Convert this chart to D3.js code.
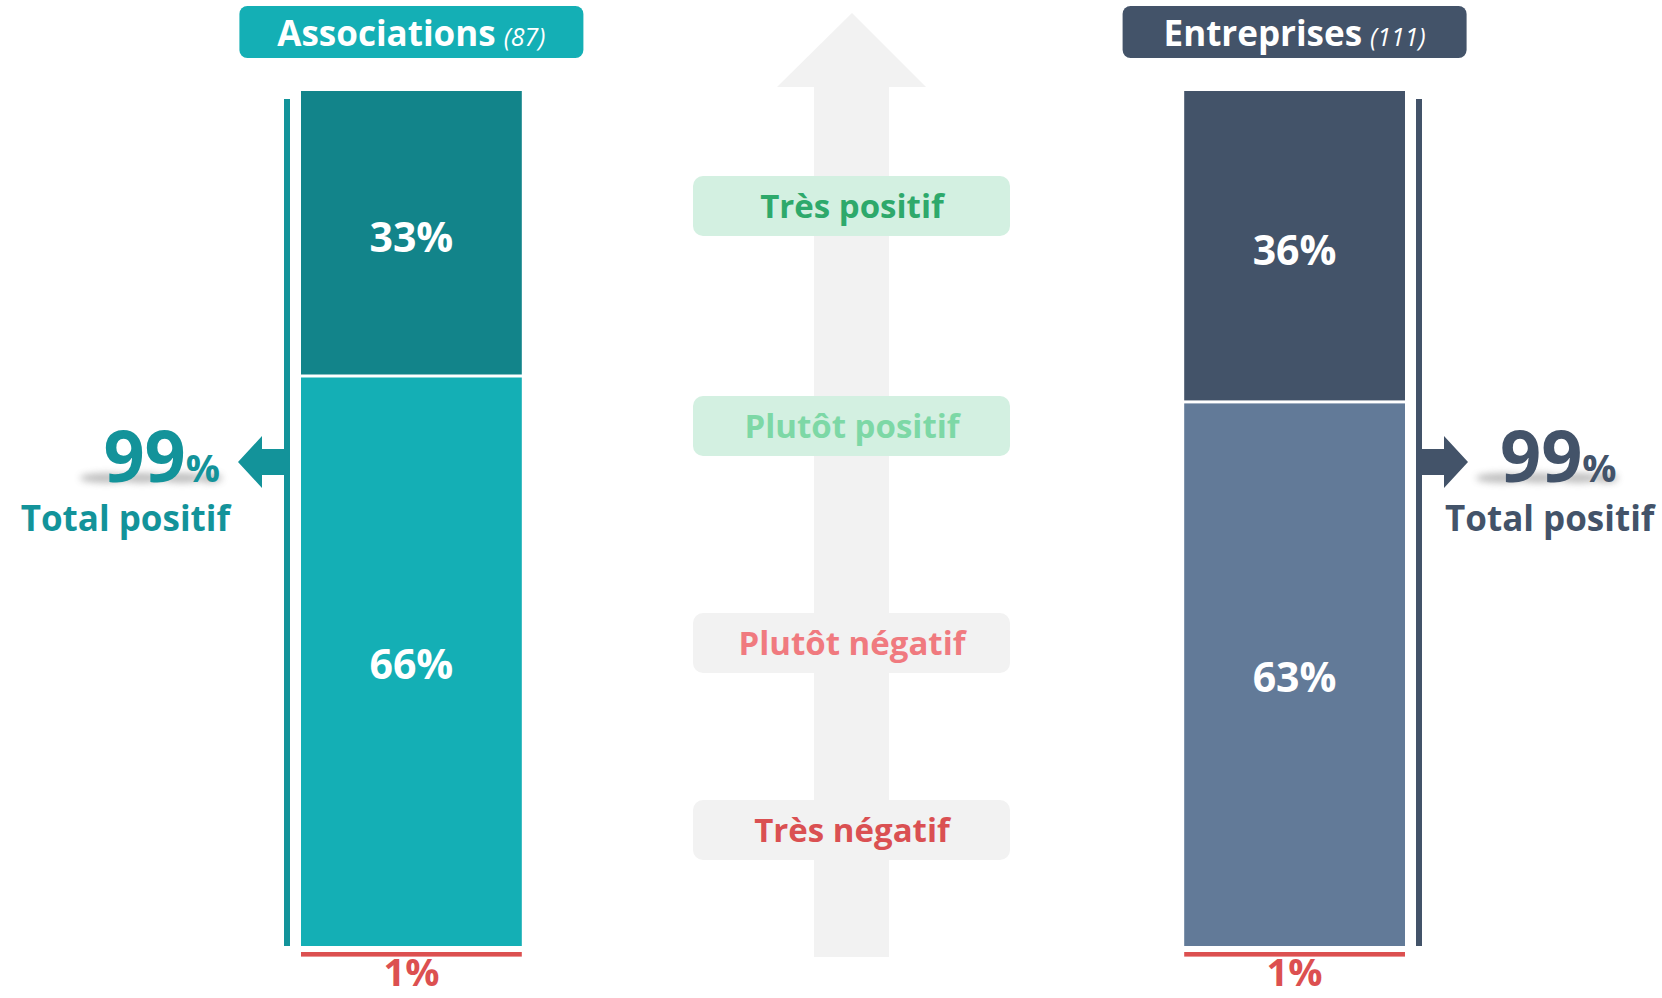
<!DOCTYPE html>
<html>
<head>
<meta charset="utf-8">
<script src="https://cdn.jsdelivr.net/npm/d3@7"></script>
<style>
  body { margin: 0; background: #fff; }
  svg { display: block; font-family: 'Open Sans', sans-serif; }
</style>
</head>
<body>
<svg id="chart" width="1662" height="998"></svg>
<script>
// data
const groups = ['Associations', 'Entreprises']
const counts = [87, 111]
const tresPositif = [33, 36]
const plutotPositif = [66, 63]
const tresNegatif = [1, 1]
const totalPositif = [99, 99]
const scaleLabels = ['Très positif', 'Plutôt positif', 'Plutôt négatif', 'Très négatif']

// styles
const darkColors = ['#12848A', '#435369']
const lightColors = ['#14AFB5', '#627A98']
const accentColors = ['#13939A', '#435369']
const headerColors = ['#14AFB5', '#435369']
const labelFill = ['#D3F0E1', '#D3F0E1', '#F2F2F2', '#F2F2F2']
const labelText = ['#2EA96B', '#7DD8A6', '#F07A7F', '#DA5052']
const labelY = [206, 426, 643, 830]
const red = '#DC5050'

const svg = d3.select('#chart')

const x = d3.scaleBand().domain(groups).range([301, 1405]).paddingInner(0.75)
const y = d3.scaleLinear().domain([0, 99]).range([946, 91])
const bw = x.bandwidth()

// shadow filter
const defs = svg.append('defs')
defs.append('filter').attr('id', 'blur')
  .attr('x', '-30%').attr('y', '-100%').attr('width', '160%').attr('height', '300%')
  .append('feGaussianBlur').attr('stdDeviation', 3.5)

// center arrow
const cx = 852
svg.append('path')
  .attr('d', d3.line()([[cx, 13], [cx + 74, 87], [cx + 37, 87], [cx + 37, 957],
    [cx - 38, 957], [cx - 38, 87], [cx - 75, 87]]) + 'Z')
  .attr('fill', '#F2F2F2')

// center labels
const lab = svg.selectAll('g.lab').data(scaleLabels).enter().append('g')
  .attr('class', 'lab')
  .attr('transform', (d, i) => `translate(${cx},${labelY[i]})`)
lab.append('rect')
  .attr('x', -159).attr('y', -30).attr('width', 317).attr('height', 60)
  .attr('rx', 10).attr('fill', (d, i) => labelFill[i])
lab.append('text')
  .attr('text-anchor', 'middle').attr('dy', '0.36em')
  .attr('font-size', 33).attr('font-weight', 700)
  .attr('fill', (d, i) => labelText[i])
  .text(d => d)

groups.forEach((g, i) => {
  const x0 = x(g)
  const mid = x0 + bw / 2

  // header
  svg.append('rect')
    .attr('x', mid - 172).attr('y', 6).attr('width', 344).attr('height', 52)
    .attr('rx', 8).attr('fill', headerColors[i])
  const ht = svg.append('text')
    .attr('x', mid).attr('y', 46).attr('text-anchor', 'middle')
    .attr('fill', '#fff')
  ht.append('tspan').attr('font-size', 35).attr('font-weight', 700).text(g)
  ht.append('tspan').attr('font-size', 25).attr('font-style', 'italic')
    .attr('dx', 8).text(`(${counts[i]})`)

  // stacked segments
  const segs = [
    { v0: plutotPositif[i], v1: plutotPositif[i] + tresPositif[i], c: darkColors[i], t: tresPositif[i] },
    { v0: 0, v1: plutotPositif[i], c: lightColors[i], t: plutotPositif[i] }
  ]
  svg.selectAll(null).data(segs).enter().append('rect')
    .attr('x', x0).attr('width', bw)
    .attr('y', d => y(d.v1) + (d.v1 < 99 ? 1.5 : 0))
    .attr('height', d => y(d.v0) - y(d.v1) - 1.5)
    .attr('fill', d => d.c)
  svg.selectAll(null).data(segs).enter().append('text')
    .attr('x', mid).attr('y', d => (y(d.v0) + y(d.v1)) / 2)
    .attr('dy', '0.45em').attr('text-anchor', 'middle')
    .attr('font-size', 41).attr('font-weight', 700).attr('fill', '#fff')
    .text(d => d.t + '%')

  // très négatif
  svg.append('rect')
    .attr('x', x0).attr('width', bw)
    .attr('y', y(0) + 6).attr('height', tresNegatif[i] * 4.6)
    .attr('fill', red)
  svg.append('text')
    .attr('x', mid).attr('y', 986).attr('text-anchor', 'middle')
    .attr('font-size', 38).attr('font-weight', 700).attr('fill', red)
    .text(tresNegatif[i] + '%')

  // total bracket line + arrow
  const left = i === 0
  const lx = left ? x0 - 14 : x0 + bw + 14
  svg.append('rect')
    .attr('x', lx - 3).attr('width', 6)
    .attr('y', y(totalPositif[i]) + 8).attr('height', y(0) - y(totalPositif[i]) - 8)
    .attr('fill', accentColors[i])
  const s = left ? -1 : 1
  const ay = 462
  svg.append('path')
    .attr('d', d3.line()([[lx + s * 3, ay - 13], [lx + s * 25, ay - 13], [lx + s * 25, ay - 26],
      [lx + s * 49, ay], [lx + s * 25, ay + 26], [lx + s * 25, ay + 13], [lx + s * 3, ay + 13]]) + 'Z')
    .attr('fill', accentColors[i])

  // total text with soft reflection
  const tx = left ? 220 : 1500
  const anchor = left ? 'end' : 'start'
  const sh = svg.append('g').attr('filter', 'url(#blur)').attr('opacity', 0.45)
  const sx0 = left ? 80 : 1476
  const blobs = [[sx0, 26], [sx0 + 40, 22], [sx0 + 80, 22], [sx0 + 118, 12]]
  sh.selectAll('ellipse').data(blobs).enter().append('ellipse')
    .attr('cx', d => d[0] + d[1]).attr('cy', 478)
    .attr('rx', d => d[1]).attr('ry', 5)
    .attr('fill', '#6f6f6f')
  const tt = svg.append('text')
    .attr('x', tx).attr('y', 482).attr('text-anchor', anchor)
    .attr('fill', accentColors[i]).attr('font-weight', 700)
  tt.append('tspan').attr('font-size', 72).text(totalPositif[i])
  tt.append('tspan').attr('font-size', 38).text('%')
  svg.append('text')
    .attr('x', left ? 230 : 1445).attr('y', 531).attr('text-anchor', anchor)
    .attr('font-size', 35).attr('font-weight', 700).attr('fill', accentColors[i])
    .text('Total positif')
})
</script>
</body>
</html>
